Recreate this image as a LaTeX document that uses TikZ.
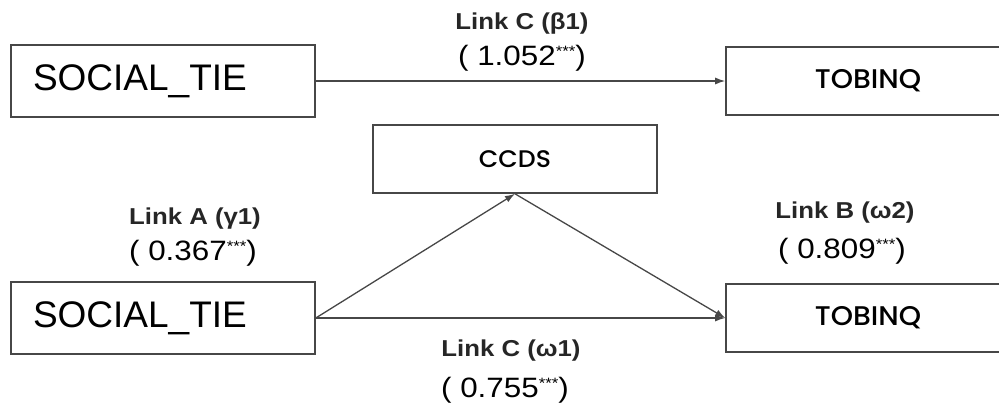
\documentclass[tikz,border=0pt]{standalone}
\usepackage{fontspec}
\setmainfont{Liberation Sans}
\newfontfamily\boxfont{Poppins}[UprightFont=*-Medium, FakeStretch=1.05]
\newfontfamily\widesans{Liberation Sans}[FakeStretch=1.12]
\usetikzlibrary{arrows.meta}
\newcommand\sigstars{{\fontsize{15}{15}\selectfont\raisebox{9pt}{***}}}
\tikzset{
  box/.style={draw=black!72, line width=1.6pt, fill=white, inner ysep=0pt},
  varbox/.style={box, text width=260pt, inner xsep=22pt, align=left,
    minimum height=72pt, font=\fontsize{37}{40}\selectfont},
  medbox/.style={box, minimum width=284pt, minimum height=68pt},
  bigname/.style={font=\boxfont\fontsize{27}{30}\selectfont},
  linkname/.style={inner sep=0pt, font=\widesans\bfseries\fontsize{23}{26}\selectfont, text=black!85},
  coef/.style={inner sep=0pt, font=\widesans\fontsize{28}{32}\selectfont},
  path/.style={draw=black!72, line width=1.3pt, -{Latex[length=10pt,width=7pt]}}
}
\begin{document}
\begin{tikzpicture}[x=1pt,y=-1pt]
\useasboundingbox (0,0) rectangle (999,405);
\clip (0,0) rectangle (999,405);

% total effect model
\node[varbox] (st1) at (163,81) {SOCIAL\_TIE};
\node[medbox, bigname] (tq1) at (868,81) {TOBINQ};
\draw[path] (st1.east) -- (tq1.west);
\node[linkname] (lc1) at (522,24) {Link C (β1)};
\node[coef] (vc1) at (522,58) {( 1.052\sigstars)};

% mediation model
\node[medbox, font=\boxfont\fontsize{24}{28}\selectfont] (ccds) at (515,159) {CCDS};
\node[varbox] (st2) at (163,318) {SOCIAL\_TIE};
\node[medbox, bigname] (tq2) at (868,318) {TOBINQ};
\draw[path] (st2.east) -- (ccds.south);
\draw[path] (ccds.south) -- (tq2.west);
\draw[path] (st2.east) -- (tq2.west);

\node[linkname] (la) at (195,219) {Link A (γ1)};
\node[coef] (va) at (193,253) {( 0.367\sigstars)};
\node[linkname] (lb) at (845,213) {Link B (ω2)};
\node[coef] (vb) at (842,251) {( 0.809\sigstars)};
\node[linkname] (lc2) at (511,351) {Link C (ω1)};
\node[coef] (vc2) at (505,390) {( 0.755\sigstars)};
\end{tikzpicture}
\end{document}
